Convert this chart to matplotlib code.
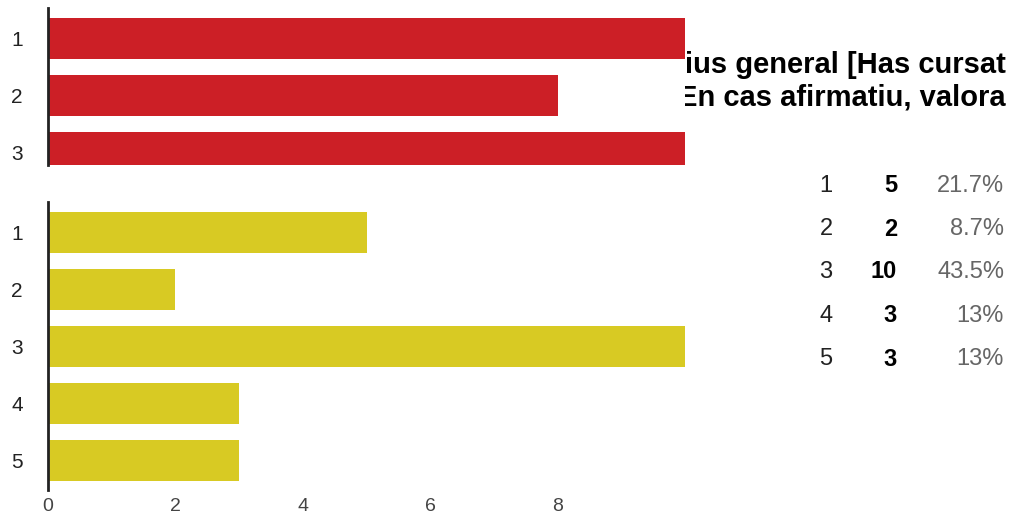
#!/usr/bin/env python3
"""
Summary chart of a form answer: two horizontal bar charts on top of a
half covered question title, with a small count table on the right.
"""

import matplotlib
matplotlib.use("Agg")
import matplotlib.pyplot as plt
from matplotlib.transforms import Bbox, TransformedBbox

# data
top_labels = ["1", "2", "3"]
top_values = [10, 8, 10]

options = ["1", "2", "3", "4", "5"]
counts = [5, 2, 10, 3, 3]
percents = ["21.7%", "8.7%", "43.5%", "13%", "13%"]

title_lines = ["ius general [Has cursat", "En cas afirmatiu, valora"]

RED = "#cc1f26"
YELLOW = "#d8ca23"
W, H = 1014, 521

plt.rcParams["font.family"] = ["Liberation Sans", "DejaVu Sans"]

fig = plt.figure(figsize=(W / 100, H / 100), dpi=100)


def fx(px):
    return px / W


def fy(py):
    return 1 - py / H


# title text, partly hidden behind the top chart
clip = TransformedBbox(Bbox([[fx(685), 0], [1, 1]]), fig.transFigure)
for line, base in zip(title_lines, [73, 105]):
    t = fig.text(fx(1006), fy(base), line, ha="right", va="baseline",
                 fontsize=21, fontweight="bold", color="black")
    t.set_clip_box(clip)
    t.set_clip_on(True)


def style_axes(ax):
    for side in ["top", "right", "bottom"]:
        ax.spines[side].set_visible(False)
    ax.spines["left"].set_color("#222222")
    ax.spines["left"].set_linewidth(2)
    ax.tick_params(axis="y", length=0, pad=18, labelsize=15, labelcolor="#222222")
    ax.tick_params(axis="x", length=0, pad=6, labelsize=14, labelcolor="#444444")
    ax.set_xlim(0, 10)


# top chart (red)
ax1 = fig.add_axes([fx(48), fy(165), fx(685 - 48), (165 - 8) / H])
ax1.barh(range(len(top_values)), top_values, height=0.72, color=RED)
ax1.set_yticks(range(len(top_labels)))
ax1.set_yticklabels(top_labels)
ax1.set_ylim(2.22, -0.535)
style_axes(ax1)
ax1.set_xticks([])

# bottom chart (yellow)
ax2 = fig.add_axes([fx(48), fy(490), fx(685 - 48), (490 - 202) / H])
ax2.barh(range(len(counts)), counts, height=0.72, color=YELLOW)
ax2.set_yticks(range(len(options)))
ax2.set_yticklabels(options)
ax2.set_ylim(4.52, -0.535)
style_axes(ax2)
ax2.set_xticks([0, 2, 4, 6, 8])

# count table
row_y = [186, 229, 272, 315.5, 359]
for opt, c, p, y in zip(options, counts, percents, row_y):
    fig.text(fx(826), fy(y), opt, ha="center", va="center", fontsize=17, color="#222222")
    fig.text(fx(897), fy(y), str(c), ha="right", va="center", fontsize=17,
             fontweight="bold", color="black")
    fig.text(fx(1004), fy(y), p, ha="right", va="center", fontsize=17, color="#666666")

fig.savefig("out.png", dpi=100)
plt.close(fig)
